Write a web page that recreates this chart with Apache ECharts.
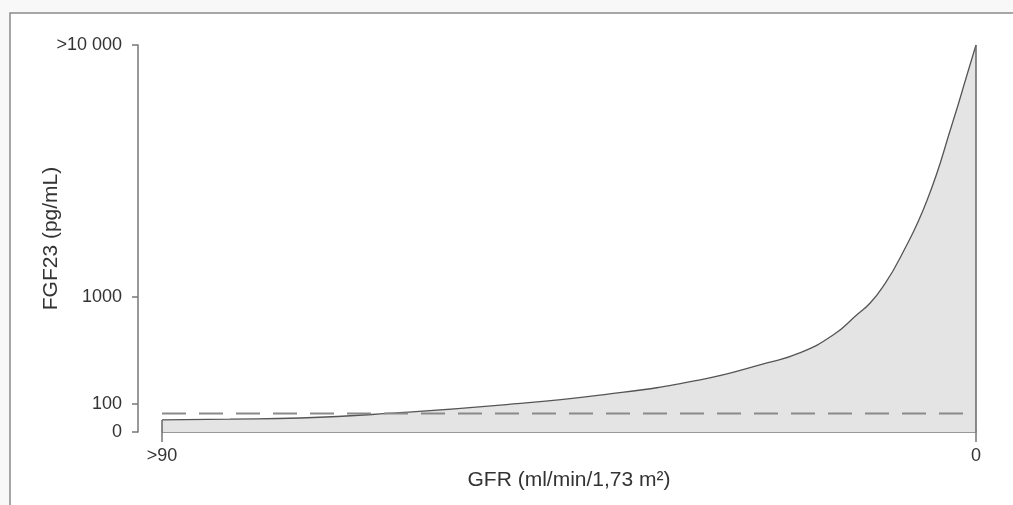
<!DOCTYPE html>
<html>
<head>
<meta charset="utf-8">
<script src="https://cdn.jsdelivr.net/npm/echarts@6/dist/echarts.min.js"></script>
<style>
  html, body { margin: 0; padding: 0; background: #f7f8f7; }
  #chart { width: 1013px; height: 505px; }
</style>
</head>
<body>
<div id="chart"></div>
<script>
// GFR (x) and FGF23 (y)
var gfr = [90, 82.5, 74.7, 63.7, 52.6, 41.6, 30.5, 23.1, 19.5, 15.8, 13.2, 11.7, 10.3, 8.4, 5.4, 2.5, 1.0, 0]
var fgf23 = [43, 46, 50, 69, 96, 121, 168, 242, 300, 441, 679, 879, 1096, 1428, 2426, 5040, 7603, 10000]
var upperLimit = 66
var yTicks = [0, 100, 1000, 10000]
var yTickLabels = ['0', '100', '1000', '>10 000']
var xTicks = [90, 0]
var xTickLabels = ['>90', '0']

// the y axis of the figure is stretched unevenly between its ticks
var tickPos = [0, 28, 135, 387]
function scaleY (v) {
  if (v <= 100) return v / 100 * tickPos[1]
  if (v <= 1000) return tickPos[1] + Math.log10(v / 100) * (tickPos[2] - tickPos[1])
  return tickPos[2] + Math.log10(v / 1000) * (tickPos[3] - tickPos[2])
}

var curve = gfr.map(function (g, i) { return [g, scaleY(fgf23[i])] })
var last = curve.length - 1
var edges = [
  [[gfr[0], 0], curve[0]],
  [[gfr[last], 0], curve[last]]
]
var limitLine = [[gfr[0], scaleY(upperLimit)], [gfr[last], scaleY(upperLimit)]]
var yTickPos = yTicks.map(scaleY)

var chart = echarts.init(document.getElementById('chart'))
var textColor = '#333'
var axisColor = '#777'

chart.setOption({
  backgroundColor: '#f7f8f7',
  animation: false,
  graphic: [{
    type: 'rect',
    shape: { x: 10, y: 13, width: 1030, height: 520 },
    style: { fill: '#fff', stroke: '#8a8a8a', lineWidth: 1.5 },
    z: -10
  }],
  grid: { left: 162, right: 37, top: 45, bottom: 73 },
  xAxis: {
    type: 'value',
    inverse: true,
    min: 0,
    max: 90,
    name: 'GFR (ml/min/1,73 m²)',
    nameLocation: 'middle',
    nameGap: 37,
    nameTextStyle: { color: textColor, fontSize: 21, fontFamily: 'Liberation Sans' },
    splitLine: { show: false },
    axisLine: { show: true, onZero: false, lineStyle: { color: axisColor, width: 1.5 } },
    axisTick: { show: true, length: 10, customValues: xTicks, lineStyle: { color: axisColor, width: 1.5 } },
    axisLabel: {
      customValues: xTicks,
      margin: 15,
      color: textColor,
      fontSize: 18,
      fontFamily: 'Liberation Sans',
      formatter: function (v) { return xTickLabels[xTicks.indexOf(v)] }
    }
  },
  yAxis: {
    type: 'value',
    min: 0,
    max: tickPos[3],
    offset: 24,
    name: 'FGF23 (pg/mL)',
    nameLocation: 'middle',
    nameGap: 76,
    nameMoveOverlap: false,
    nameTextStyle: { color: textColor, fontSize: 21, fontFamily: 'Liberation Sans' },
    splitLine: { show: false },
    axisLine: { show: true, onZero: false, lineStyle: { color: axisColor, width: 1.5 } },
    axisTick: { show: true, length: 6, customValues: yTickPos, lineStyle: { color: axisColor, width: 1.5 } },
    axisLabel: {
      customValues: yTickPos,
      margin: 16,
      color: textColor,
      fontSize: 18,
      fontFamily: 'Liberation Sans',
      formatter: function (v) {
        var i = yTickPos.findIndex(function (p) { return Math.abs(p - v) < 0.01 })
        return i >= 0 ? yTickLabels[i] : ''
      }
    }
  },
  series: [{
    type: 'line',
    data: curve,
    smooth: true,
    symbol: 'none',
    lineStyle: { color: '#555', width: 1.3 },
    areaStyle: { color: '#e3e4e3', opacity: 1 },
    z: 2
  }, {
    type: 'line',
    data: edges[0],
    symbol: 'none',
    lineStyle: { color: '#666', width: 1.5 },
    z: 3
  }, {
    type: 'line',
    data: edges[1],
    symbol: 'none',
    lineStyle: { color: '#666', width: 1.5 },
    z: 3
  }, {
    type: 'line',
    data: limitLine,
    symbol: 'none',
    lineStyle: { color: '#8a8a8a', width: 2, type: [24, 13] },
    z: 4
  }]
})
</script>
</body>
</html>
